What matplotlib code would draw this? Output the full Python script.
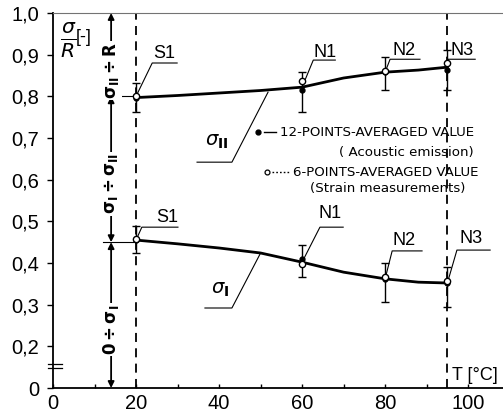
import numpy as np
import matplotlib
matplotlib.use("Agg")
import matplotlib.pyplot as plt
from matplotlib import font_manager

# ---------------- data ----------------
stations = ["S1", "N1", "N2", "N3"]
temps = [20, 60, 80, 95]

# sigma_II / R (upper curve)
upper_acoustic = [0.797, 0.815, 0.858, 0.862]
upper_strain = [0.800, 0.836, 0.860, 0.880]
upper_err_lo = [0.762, 0.763, 0.815, 0.815]
upper_err_hi = [0.832, 0.858, 0.895, 0.910]
upper_curve_T = [20, 30, 40, 50, 60, 70, 80, 88, 95]
upper_curve_v = [0.797, 0.802, 0.808, 0.814, 0.822, 0.844, 0.858, 0.863, 0.870]

# sigma_I / R (lower curve)
lower_acoustic = [0.455, 0.410, 0.362, 0.352]
lower_strain = [0.458, 0.398, 0.366, 0.356]
lower_err_lo = [0.424, 0.366, 0.306, 0.294]
lower_err_hi = [0.489, 0.443, 0.400, 0.390]
lower_curve_T = [20, 30, 40, 50, 60, 70, 80, 88, 95]
lower_curve_v = [0.455, 0.446, 0.436, 0.424, 0.402, 0.378, 0.362, 0.354, 0.352]

x_ticks = [0, 20, 40, 60, 80, 100]
y_ticks = [0, 0.2, 0.3, 0.4, 0.5, 0.6, 0.7, 0.8, 0.9, 1.0]
y_tick_labels = ["0", "0,2", "0,3", "0,4", "0,5", "0,6", "0,7", "0,8", "0,9", "1,0"]
ref_levels = [0.8, 0.45]
dashed_T = [20, 95]

# ---------------- fonts ----------------
names = {f.name for f in font_manager.fontManager.ttflist}
narrow = "Liberation Sans Narrow" if "Liberation Sans Narrow" in names else "Liberation Sans"
plt.rcParams["font.family"] = [narrow, "DejaVu Sans"]
plt.rcParams["mathtext.fontset"] = "dejavusans"

# broken y-axis: 0..0.2 compressed to half
def fwd(y):
    y = np.asarray(y, dtype=float)
    return np.where(y < 0.2, y / 2.0, y - 0.1)

def inv(z):
    z = np.asarray(z, dtype=float)
    return np.where(z < 0.1, z * 2.0, z + 0.1)

fig = plt.figure(figsize=(5.03, 4.15), dpi=100)
ax = fig.add_axes([53 / 503, 1 - 388 / 415, 1 - 53 / 503, (388 - 13) / 415])
ax.set_yscale("function", functions=(fwd, inv))
ax.set_xlim(0, 108.4)
ax.set_ylim(0, 1.0)

ax.spines["right"].set_visible(False)
ax.spines["top"].set_color("0.45")
ax.spines["top"].set_linewidth(0.8)
ax.spines["left"].set_linewidth(1.3)
ax.spines["bottom"].set_linewidth(1.3)

ax.set_xticks(x_ticks)
ax.set_xticks(list(range(10, 101, 20)), minor=True)
ax.set_yticks(y_ticks)
ax.set_yticklabels(y_tick_labels)
ax.yaxis.set_minor_locator(matplotlib.ticker.NullLocator())
ax.tick_params(axis="x", which="both", direction="in", length=3, width=1, labelsize=14.5, pad=4)
ax.tick_params(axis="y", which="both", direction="out", length=4, width=1, labelsize=14.5, pad=6)

# dashed verticals
for t in dashed_T:
    ax.plot([t, t], [0, 1.0], color="k", lw=1.3, ls=(0, (5, 3.5)), zorder=2)

# curves
ax.plot(upper_curve_T, upper_curve_v, color="k", lw=2.0, zorder=3)
ax.plot(lower_curve_T, lower_curve_v, color="k", lw=2.0, zorder=3)

# error bars
for lo, hi in ((upper_err_lo, upper_err_hi), (lower_err_lo, lower_err_hi)):
    mid = [(a + b) / 2 for a, b in zip(lo, hi)]
    ax.errorbar(temps, mid, yerr=[[m - a for m, a in zip(mid, lo)], [b - m for m, b in zip(mid, hi)]],
                fmt="none", ecolor="k", elinewidth=1.0, capsize=3, capthick=1.0, zorder=4)

# markers
ax.plot(temps, upper_acoustic, "o", ms=3.5, color="k", zorder=5)
ax.plot(temps, lower_acoustic, "o", ms=3.5, color="k", zorder=5)
ax.plot(temps, upper_strain, "o", ms=4.5, mfc="white", mec="k", mew=1.0, zorder=6)
ax.plot(temps, lower_strain, "o", ms=4.5, mfc="white", mec="k", mew=1.0, zorder=6)

# station labels with leader lines: (point, elbow, end, label)
leaders_upper = [((20, 0.80), (23.9, 0.880), 29.9, (26.7, 0.904)),
                 ((60, 0.822), (62.7, 0.887), 68.0, (65.5, 0.906)),
                 ((80, 0.858), (81.2, 0.889), 88.4, (84.6, 0.911)),
                 ((95, 0.870), (95.2, 0.889), 101.7, (98.6, 0.909))]
leaders_lower = [((20, 0.455), (21.4, 0.486), 30.1, (27.5, 0.508)),
                 ((60, 0.402), (64.3, 0.486), 69.9, (66.7, 0.518)),
                 ((80, 0.362), (81.7, 0.429), 88.9, (84.6, 0.455)),
                 ((95, 0.352), (97.3, 0.431), 105.3, (100.7, 0.460))]
for name, (p, e, xe, lab) in zip(stations * 2, leaders_upper + leaders_lower):
    ax.plot([p[0], e[0], xe], [p[1], e[1], e[1]], color="k", lw=0.8, zorder=3)
    ax.text(lab[0], lab[1], name, ha="center", va="center", fontsize=13,
            family=["Liberation Sans", "DejaVu Sans"])

# sigma labels
ax.plot([51.8, 43.1, 34.7], [0.810, 0.642, 0.642], color="k", lw=0.8)
ax.text(39.5, 0.690, r"$\sigma_{\mathbf{II}}$", ha="center", va="center", fontsize=14)
ax.plot([49.9, 43.1, 36.6], [0.422, 0.292, 0.292], color="k", lw=0.8)
ax.text(40.2, 0.335, r"$\sigma_{\mathbf{I}}$", ha="center", va="center", fontsize=14)

# left vertical dimension arrows
xv = 14.0
for a, b in ((0.8, 1.0), (0.45, 0.8), (0.0, 0.45)):
    ax.annotate("", xy=(xv, b), xytext=(xv, a),
                arrowprops=dict(arrowstyle="<|-|>", lw=1.3, color="k",
                                shrinkA=0, shrinkB=0, mutation_scale=9), zorder=3)
for lv in ref_levels:
    ax.plot([12, 20], [lv, lv], color="k", lw=0.8, zorder=3)
bb = dict(facecolor="white", edgecolor="none", pad=1)
ax.text(xv, 0.862, r"$\mathbf{\sigma_{II}\div R}$", rotation=90, ha="center", va="center",
        fontsize=12, bbox=bb, zorder=4)
ax.text(xv, 0.590, r"$\mathbf{\sigma_{I}\div \sigma_{II}}$", rotation=90, ha="center", va="center",
        fontsize=12, bbox=bb, zorder=4)
ax.text(xv, 0.240, r"$\mathbf{0\div \sigma_{I}}$", rotation=90, ha="center", va="center",
        fontsize=12, bbox=bb, zorder=4)

# axis break marks
for yb in (0.095, 0.115):
    ax.plot([-1.2, 2.2], [yb, yb], color="k", lw=0.9, clip_on=False, zorder=5)

# axis titles
ax.text(1.8, 0.935, r"$\frac{\sigma}{R}$", ha="left", va="center", fontsize=21)
ax.text(5.4, 0.942, "[-]", ha="left", va="center", fontsize=13)
ax.text(96.0, 0.060, "T [°C]", ha="left", va="center", fontsize=13,
        family=["Liberation Sans", "DejaVu Sans"])

# legend (manual)
lf = ["DejaVu Sans"]
lfs = 9.6
ax.plot([49.4], [0.714], "o", ms=3.5, color="k")
ax.plot([50.8, 53.8], [0.714, 0.714], color="k", lw=1.0)
ax.text(54.7, 0.714, "12-POINTS-AVERAGED VALUE", ha="left", va="center", fontsize=lfs, family=lf)
ax.text(69.0, 0.666, "( Acoustic emission)", ha="left", va="center", fontsize=lfs, family=lf)
ax.plot([51.6], [0.618], "o", ms=3.5, mfc="white", mec="k", mew=0.9)
ax.plot([52.8, 57.2], [0.618, 0.618], color="k", lw=1.0, ls=(0, (1.2, 1.5)))
ax.text(57.8, 0.618, "6-POINTS-AVERAGED VALUE", ha="left", va="center", fontsize=lfs, family=lf)
ax.text(62.0, 0.580, "(Strain measurements)", ha="left", va="center", fontsize=lfs, family=lf)

fig.savefig("out.png", dpi=100)
